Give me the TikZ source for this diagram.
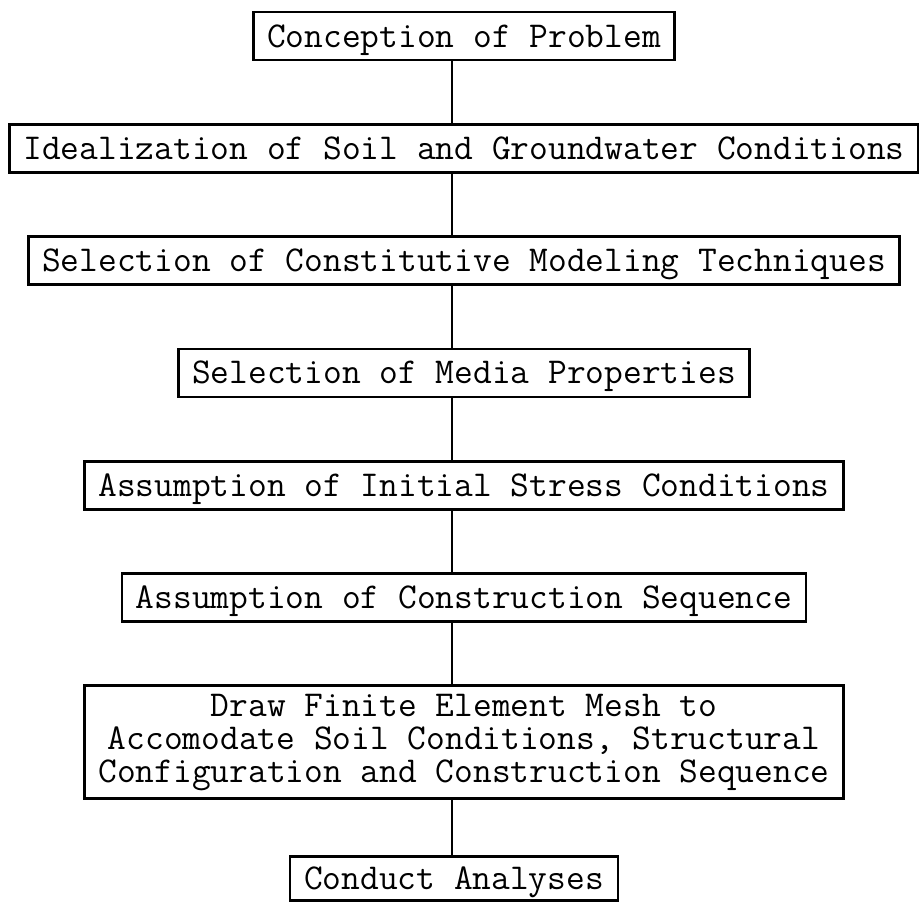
\documentclass[tikz,border=0pt]{standalone}
\usepackage{fontspec}
\usepackage{tikz}
\usetikzlibrary{positioning}
\tikzstyle{stage} = [
    rectangle, draw, line width=1.4pt,
    inner xsep=7pt, inner ysep=0pt,
    minimum height=24pt, % all single line boxes alike
    text height=11pt, text depth=0pt,
    font=\ttfamily\fontsize{18.2}{16.5}\selectfont
]
\tikzstyle{link} = [line width=1.2pt]

\begin{document}
\begin{tikzpicture}[x=0.5pt, y=-0.5pt, node distance=30.75pt]
        \useasboundingbox (0,0) rectangle (919,905);

        % Steps
        \node[stage] (conception) at (464,36) {Conception of Problem};
        \node[stage] (idealization) [below=of conception] {Idealization of Soil and Groundwater Conditions};
        \node[stage] (constitutive) [below=of idealization] {Selection of Constitutive Modeling Techniques};
        \node[stage] (media) [below=of constitutive] {Selection of Media Properties};
        \node[stage] (initial) [below=of media] {Assumption of Initial Stress Conditions};
        \node[stage] (sequence) [below=of initial] {Assumption of Construction Sequence};
        \node[stage, text height=, text depth=, minimum height=56.5pt, inner ysep=0pt, align=center] (mesh) [below=of sequence] {
            Draw Finite Element Mesh to\\
            Accomodate Soil Conditions, Structural\\
            Configuration and Construction Sequence
        };
        \node[stage, minimum height=22pt] (analyses) [below=of mesh, xshift=-5pt, yshift=3.25pt] {Conduct Analyses};

        % Connectors on one vertical line
        \coordinate (spine) at (452,0);
        \draw[link] (conception.south -| spine) -- (idealization.north -| spine);
        \draw[link] (idealization.south -| spine) -- (constitutive.north -| spine);
        \draw[link] (constitutive.south -| spine) -- (media.north -| spine);
        \draw[link] (media.south -| spine) -- (initial.north -| spine);
        \draw[link] (initial.south -| spine) -- (sequence.north -| spine);
        \draw[link] (sequence.south -| spine) -- (mesh.north -| spine);
        \draw[link] (mesh.south -| spine) -- (analyses.north -| spine);

\end{tikzpicture}
\end{document}
